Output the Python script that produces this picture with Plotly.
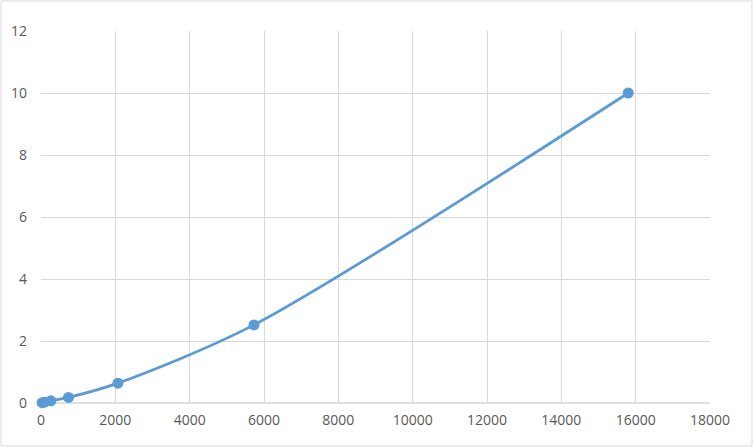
"""
Standard curve, Excel-style smoothed scatter
"""
# Imports ---------------------------------------------------------------------
import plotly.graph_objects as go

# Data ------------------------------------------------------------------------
concentration = [30, 95, 265, 740, 2070, 5730, 15800]
signal = [0.01, 0.025, 0.07, 0.18, 0.64, 2.52, 10.0]

x_ticks = [0, 2000, 4000, 6000, 8000, 10000, 12000, 14000, 16000, 18000]
y_ticks = [0, 2, 4, 6, 8, 10, 12]

# Figure ----------------------------------------------------------------------
W, H = 753, 447
left, right, top, bottom = 41, 43, 31, 44
pw = W - left - right
ph = H - top - bottom

fig = go.Figure()
fig.add_trace(
    go.Scatter(
        x=concentration,
        y=signal,
        mode="lines+markers",
        line=dict(color="#5b9bd5", width=2.75, shape="spline", smoothing=0.8),
        marker=dict(color="#5b9bd5", size=11),
        cliponaxis=False,
        showlegend=False,
    )
)

grid = "#d9d9d9"
fig.update_layout(
    width=W,
    height=H,
    margin=dict(l=left, r=right, t=top, b=bottom, autoexpand=False),
    paper_bgcolor="white",
    plot_bgcolor="white",
    font=dict(family="Open Sans, Liberation Sans", size=14, color="#595959"),
    xaxis=dict(
        range=[0, 18000],
        tickvals=x_ticks,
        ticktext=[str(v) for v in x_ticks],
        showgrid=True,
        gridcolor=grid,
        gridwidth=1,
        zeroline=False,
        showline=False,
        ticks="",
        automargin=False,
        ticklabelstandoff=7,
    ),
    yaxis=dict(
        range=[0, 12],
        tickvals=y_ticks,
        ticktext=[str(v) for v in y_ticks],
        showgrid=True,
        gridcolor=grid,
        gridwidth=1,
        zeroline=False,
        showline=False,
        ticks="",
        automargin=False,
        ticklabelstandoff=13,
    ),
    shapes=[
        # outer chart border
        dict(
            type="rect",
            xref="paper",
            yref="paper",
            x0=-(left - 1) / pw,
            x1=1 + (right - 1) / pw,
            y0=-(bottom - 1) / ph,
            y1=1 + (top - 1) / ph,
            line=dict(color=grid, width=1),
            layer="below",
        ),
        # axis line at y=0
        dict(
            type="line",
            xref="paper",
            yref="paper",
            x0=0,
            x1=1,
            y0=0,
            y1=0,
            line=dict(color="#bfbfbf", width=1),
            layer="below",
        ),
    ],
)

# drop the default page margin so the chart sits at the window corner
fig.write_html(
    "out.html",
    config={"displayModeBar": False},
    post_script="document.body.style.margin='0';",
)
